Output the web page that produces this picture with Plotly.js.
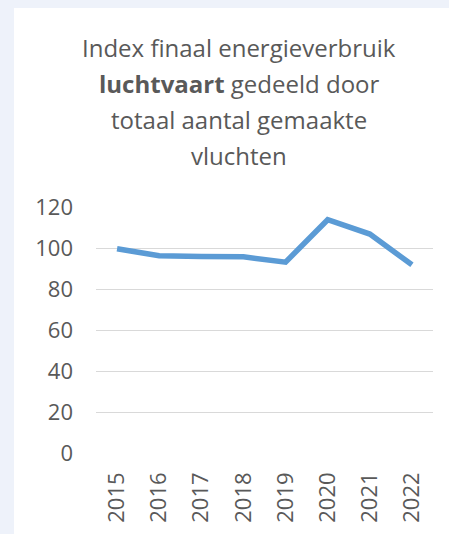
<!DOCTYPE html>
<html>
<head>
<meta charset="utf-8">
<script src="https://cdn.plot.ly/plotly-3.0.1.min.js"></script>
<style>html,body{margin:0;padding:0;background:#EEF2FA;}#chart{width:449px;height:534px;}</style>
</head>
<body>
<div id="chart"></div>
<script>
const years = ["2015","2016","2017","2018","2019","2020","2021","2022"];
const indexValues = [99.6, 96.2, 95.8, 95.7, 93.1, 113.8, 106.8, 91.8];
const yTicks = [0, 20, 40, 60, 80, 100, 120];
const titleLines = [
  "Index finaal energieverbruik",
  "<b>luchtvaart</b> gedeeld door",
  "totaal aantal gemaakte",
  "vluchten"
];

const W = 449, H = 534;
const margin = {l: 96, r: 16, t: 207, b: 81};
const plotH = H - margin.t - margin.b;
const plotW = W - margin.l - margin.r;
const font = "'Open Sans', Lato, sans-serif";
const textColor = "#595959";

// baselines in pixels from top
const baselines = [58, 94, 130, 166];
const annotations = titleLines.map((t, i) => ({
  text: t,
  xref: "paper", yref: "paper",
  x: (239 - margin.l) / plotW,
  y: (H - margin.b - baselines[i] - 8) / plotH,
  xanchor: "center", yanchor: "bottom",
  showarrow: false,
  font: {family: font, size: 24, color: textColor}
}));

const shapes = [{
  type: "rect", xref: "paper", yref: "paper", layer: "below",
  x0: (14 - margin.l) / plotW, x1: (W + 5 - margin.l) / plotW,
  y0: (H - margin.b - H - 5) / plotH, y1: (H - margin.b - 8) / plotH,
  fillcolor: "#FFFFFF", line: {width: 0}
}];

const trace = {
  x: years, y: indexValues, type: "scatter", mode: "lines",
  line: {color: "#5B9BD5", width: 5.5},
  hoverinfo: "skip"
};

const layout = {
  width: W, height: H,
  margin: margin,
  paper_bgcolor: "#EEF2FA",
  plot_bgcolor: "rgba(0,0,0,0)",
  showlegend: false,
  annotations: annotations,
  shapes: shapes,
  xaxis: {
    type: "category", range: [-0.5, 7.5],
    showgrid: false, zeroline: false, showline: false, ticks: "",
    tickangle: -90, ticklabelstandoff: 14,
    tickfont: {family: font, size: 22, color: textColor}
  },
  yaxis: {
    range: [0, 120], tickvals: yTicks, ticktext: yTicks.map(String),
    showgrid: true, gridcolor: "#D9D9D9", gridwidth: 1,
    zeroline: false, showline: false, ticks: "",
    ticklabelstandoff: 22,
    tickfont: {family: font, size: 22, color: textColor}
  }
};

Plotly.newPlot("chart", [trace], layout, {displayModeBar: false, staticPlot: true});
</script>
</body>
</html>
